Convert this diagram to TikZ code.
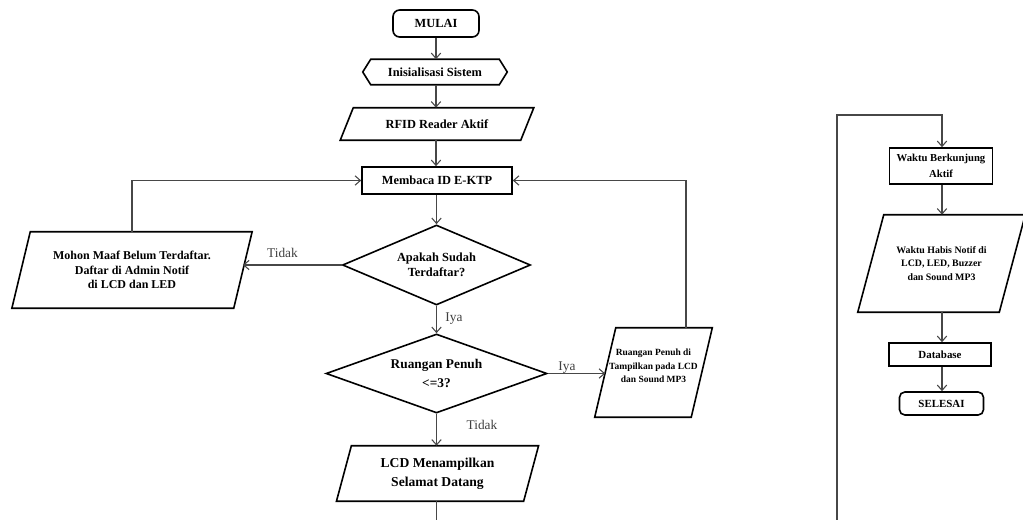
\documentclass[tikz,border=0pt]{standalone}
\usepackage{fontspec}
\setmainfont{Liberation Serif}
\usetikzlibrary{arrows.meta,calc,shapes.geometric}
\newcommand\drawpara[2]{\draw[shapeline] ([xshift=#2]#1.north west) -- ([xshift=#2]#1.north east) -- ([xshift=-#2]#1.south east) -- ([xshift=-#2]#1.south west) -- cycle;}
\begin{document}
\begin{tikzpicture}[x=0.75pt,y=-0.75pt,
  shapeline/.style={draw=black,line width=1.2pt},
  conn/.style={draw=black!72,line width=0.8pt},
  arr/.style={conn,-{Straight Barb[length=4pt,width=7pt]}},
  lbl/.style={font=\fontsize{10}{12}\selectfont,text=black!75,inner sep=0},
  tbox/.style={rectangle,inner sep=0,align=center,font=\bfseries\fontsize{9.3}{11}\selectfont},
  rbox/.style={tbox,shapeline,rounded corners=5pt},
  pbox/.style={tbox,shapeline},
  dbox/.style={diamond,shapeline,inner sep=0,align=center,font=\bfseries\fontsize{9.3}{11.5}\selectfont}
]
\useasboundingbox (0,0) rectangle (1023,520);

% main column
\node[rbox,minimum width=64.5pt,minimum height=20.25pt] (mulai) at (436,23.5) {MULAI};
\node[tbox,minimum width=108pt,minimum height=18.75pt] (init) at (435,72) {Inisialisasi Sistem};
\draw[shapeline] (init.west) -- ([xshift=6pt]init.north west) -- ([xshift=-6pt]init.north east) -- (init.east) -- ([xshift=-6pt]init.south east) -- ([xshift=6pt]init.south west) -- cycle;
\node[tbox,minimum width=135pt,minimum height=24pt] (rfid) at (437,124) {RFID Reader Aktif};
\drawpara{rfid}{4.9pt}
\node[pbox,minimum width=112.5pt,minimum height=20.25pt] (membaca) at (437,180.5) {Membaca ID E-KTP};
\node[dbox,aspect=2.35,minimum width=141pt,minimum height=60pt] (d1) at (436.5,265) {Apakah Sudah\\Terdaftar?};
\node[dbox,aspect=2.8,minimum width=165.75pt,minimum height=59.25pt,font=\bfseries\fontsize{10}{13}\selectfont] (d2) at (436.5,373.5) {Ruangan Penuh\\[1pt]<=3?};
\node[tbox,minimum width=140pt,minimum height=41.25pt,font=\bfseries\fontsize{10.2}{14}\selectfont] (lcd) at (437.5,473.5) {LCD Menampilkan\\Selamat Datang};
\drawpara{lcd}{5.6pt}

% side boxes
\node[tbox,minimum width=166pt,minimum height=57pt,font=\bfseries\fontsize{9}{11}\selectfont] (left) at (132,270) {Mohon Maaf Belum Terdaftar.\\Daftar di Admin Notif\\di LCD dan LED};
\drawpara{left}{6.9pt}
\node[tbox,minimum width=72pt,minimum height=66.75pt,
  label={[yshift=5pt,align=center,font=\bfseries\fontsize{7.1}{10}\selectfont]center:Ruangan Penuh di\\Tampilkan pada LCD\\dan Sound MP3}] (rb) at (653.5,372.5) {};
\drawpara{rb}{7.9pt}

% right column
\node[pbox,minimum width=77.25pt,minimum height=27pt,font=\bfseries\fontsize{8}{12}\selectfont] (waktu) at (941,166) {Waktu Berkunjung\\Aktif};
\node[tbox,minimum width=105.75pt,minimum height=72.75pt,font=\bfseries\fontsize{7.4}{10}\selectfont] (habis) at (941.5,263.5) {Waktu Habis Notif di\\LCD, LED, Buzzer\\dan Sound MP3};
\drawpara{habis}{9.75pt}
\node[pbox,minimum width=76.5pt,minimum height=17.25pt,font=\bfseries\fontsize{8.2}{10}\selectfont] (db) at (940,354.5) {Database};
\node[rbox,minimum width=63pt,minimum height=17.25pt,rounded corners=4pt,font=\bfseries\fontsize{8.2}{10}\selectfont] (selesai) at (941.5,403.5) {SELESAI};

% connectors
\draw[arr] (mulai.south) -- (mulai.south |- init.north);
\draw[arr] (init.south -| mulai.south) -- (mulai.south |- rfid.north);
\draw[arr] (rfid.south -| mulai.south) -- (mulai.south |- membaca.north);
\draw[arr] (membaca.south -| d1.north) -- (d1.north);
\draw[arr] (d1.south) -- (d2.north);
\node[lbl] (iya1) at (454,319) {Iya};
\draw[arr] (d1.west) -- (d1.west -| left.east);
\node[lbl] (tidak1) at (282.5,253) {Tidak};
\draw[arr] (left.north) |- (membaca.west);
\draw[arr] (d2.east) -- (d2.east -| rb.west);
\node[lbl] (iya2) at (567,368) {Iya};
\draw[arr] ($(rb.north)+(32.5,0)$) |- (membaca.east);
\draw[arr] (d2.south) -- (d2.south |- lcd.north);
\node[lbl] (tidak2) at (482,425) {Tidak};
\coordinate (lcdend) at (436.5,525);
\draw[conn] (d2.south |- lcd.south) -- (lcdend);

\coordinate (rbot) at (837,525);
\coordinate (rtop) at (837,115);
\coordinate (rcol) at (942,115);
\draw[arr] (rbot) -- (rtop) -- (rcol) -- (rcol |- waktu.north);
\draw[arr] (rcol |- waktu.south) -- (rcol |- habis.north);
\draw[arr] (rcol |- habis.south) -- (rcol |- db.north);
\draw[arr] (rcol |- db.south) -- (rcol |- selesai.north);
\end{tikzpicture}
\end{document}
